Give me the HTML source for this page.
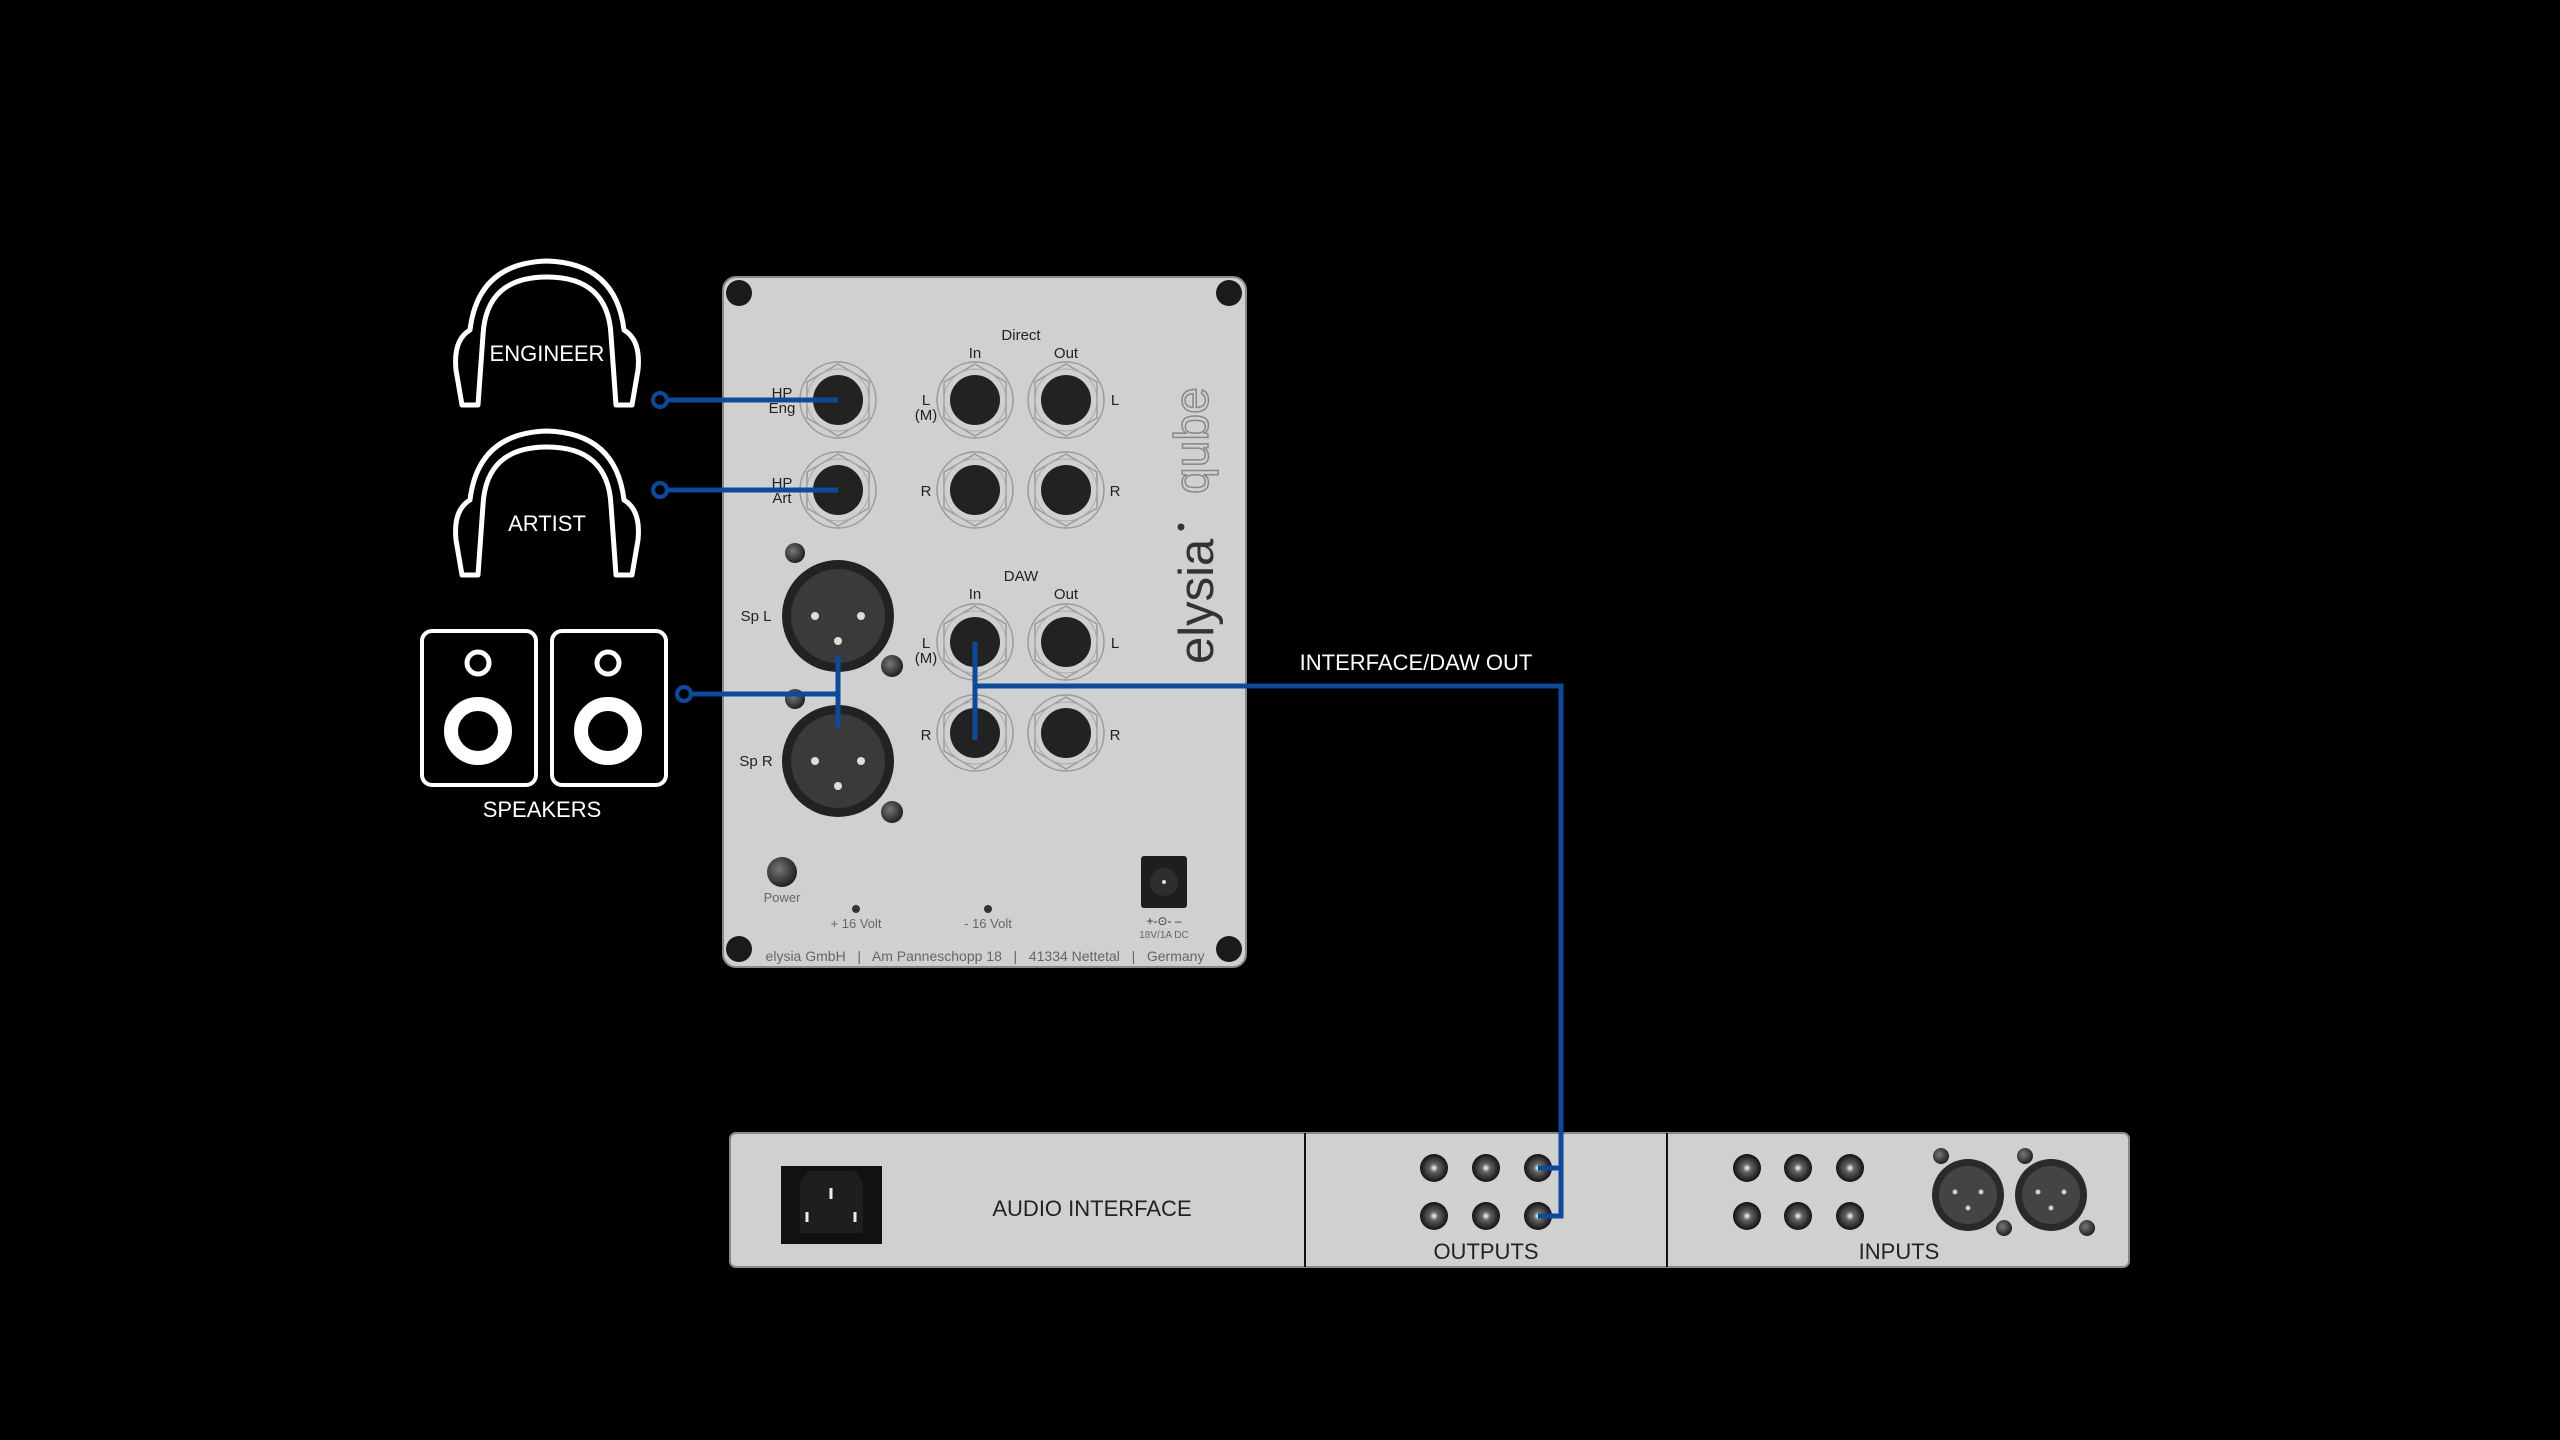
<!DOCTYPE html>
<html><head><meta charset="utf-8"><style>
html,body{margin:0;padding:0;background:#000;width:2560px;height:1440px;overflow:hidden}
text{font-family:"Liberation Sans",sans-serif}
</style></head><body>
<svg width="2560" height="1440" viewBox="0 0 2560 1440" xmlns="http://www.w3.org/2000/svg">
<defs>
<g id="jack">
  <circle r="38" fill="none" stroke="#9a9a9a" stroke-width="1.5"/>
  <polygon points="0,-36 31,-18 31,18 0,36 -31,18 -31,-18" fill="none" stroke="#9a9a9a" stroke-width="1.5"/>
  <circle r="31" fill="none" stroke="#aaa" stroke-width="1"/>
  <circle r="25" fill="#222"/>
</g>
<g id="xlr">
  <circle r="56" fill="#222"/>
  <circle r="47" fill="#3a3a3a"/>
  <circle cx="-23" cy="0" r="4" fill="#ddd"/>
  <circle cx="23" cy="0" r="4" fill="#ddd"/>
  <circle cx="0" cy="25" r="4" fill="#ddd"/>
</g>
<radialGradient id="sg" cx="0.4" cy="0.4" r="0.6"><stop offset="0" stop-color="#777"/><stop offset="1" stop-color="#222"/></radialGradient>
<radialGradient id="rca" cx="0.5" cy="0.5" r="0.5"><stop offset="0" stop-color="#fff"/><stop offset="0.3" stop-color="#666"/><stop offset="1" stop-color="#111"/></radialGradient>
</defs>

<!-- qube panel -->
<rect x="723" y="277" width="523" height="690" rx="13" fill="#d0d0d0" stroke="#888" stroke-width="2"/>
<g fill="#1a1a1a">
<circle cx="739" cy="293" r="13"/><circle cx="1229" cy="293" r="13"/>
<circle cx="739" cy="949" r="13"/><circle cx="1229" cy="949" r="13"/>
</g>
<g fill="#222" font-size="15" text-anchor="middle">
<text x="1021" y="340">Direct</text>
<text x="975" y="358">In</text><text x="1066" y="358">Out</text>
<text x="1021" y="581">DAW</text>
<text x="975" y="599">In</text><text x="1066" y="599">Out</text>
<text x="926" y="405">L</text><text x="926" y="420">(M)</text>
<text x="1115" y="405">L</text>
<text x="926" y="496">R</text><text x="1115" y="496">R</text>
<text x="926" y="648">L</text><text x="926" y="663">(M)</text>
<text x="1115" y="648">L</text>
<text x="926" y="740">R</text><text x="1115" y="740">R</text>
<text x="782" y="398">HP</text><text x="782" y="413">Eng</text>
<text x="782" y="488">HP</text><text x="782" y="503">Art</text>
<text x="756" y="621">Sp L</text><text x="756" y="766">Sp R</text>
</g>
<use href="#jack" x="838" y="400"/><use href="#jack" x="838" y="490"/>
<use href="#jack" x="975" y="400"/><use href="#jack" x="1066" y="400"/>
<use href="#jack" x="975" y="490"/><use href="#jack" x="1066" y="490"/>
<use href="#jack" x="975" y="642"/><use href="#jack" x="1066" y="642"/>
<use href="#jack" x="975" y="733"/><use href="#jack" x="1066" y="733"/>
<use href="#xlr" x="838" y="616"/><use href="#xlr" x="838" y="761"/>
<g fill="url(#sg)">
<circle cx="795" cy="553" r="10"/><circle cx="892" cy="666" r="11"/>
<circle cx="795" cy="699" r="10"/><circle cx="892" cy="812" r="11"/>
<circle cx="782" cy="872" r="15"/>
</g>
<g fill="#666" font-size="13" text-anchor="middle">
<text x="782" y="902">Power</text>
<text x="856" y="928">+ 16 Volt</text><text x="988" y="928">- 16 Volt</text>
<text x="1164" y="925" font-size="12" fill="#333">+-⊙- –</text>
<text x="1164" y="938" font-size="10">18V/1A DC</text>
<text x="985" y="961" font-size="14" xml:space="preserve">elysia GmbH   |   Am Panneschopp 18   |   41334 Nettetal   |   Germany</text>
</g>
<circle cx="856" cy="909" r="4" fill="#333"/><circle cx="988" cy="909" r="4" fill="#333"/>
<rect x="1141" y="856" width="46" height="52" rx="3" fill="#1e1e1e"/>
<circle cx="1164" cy="882" r="14" fill="#2e2e2e"/><circle cx="1164" cy="882" r="2" fill="#ddd"/>
<g transform="translate(1213,664) rotate(-90)">
<text x="0" y="0" font-size="49" fill="#333">elysia</text>
<circle cx="137" cy="-32" r="3.5" fill="#333"/>
<text x="170" y="-5" font-size="48" fill="none" stroke="#888" stroke-width="1.5">qube</text>
</g>

<!-- headphones -->
<g fill="none" stroke="#fff" stroke-width="5" stroke-linejoin="round">
<path d="M462,405 L456,370 Q453,340 470,330 Q478,263 547,261 Q616,263 624,330 Q641,340 638,370 L632,405 L616,405 L611,335 Q608,277 547,277 Q486,277 483,335 L478,405 Z"/>
<path d="M462,575 L456,540 Q453,510 470,500 Q478,433 547,431 Q616,433 624,500 Q641,510 638,540 L632,575 L616,575 L611,505 Q608,447 547,447 Q486,447 483,505 L478,575 Z"/>
</g>
<g fill="#fff" font-size="22" text-anchor="middle">
<text x="547" y="361">ENGINEER</text>
<text x="547" y="531">ARTIST</text>
<text x="542" y="817">SPEAKERS</text>
</g>
<!-- speakers -->
<g fill="none" stroke="#fff">
<rect x="422" y="631" width="114" height="154" rx="10" stroke-width="4"/>
<rect x="552" y="631" width="114" height="154" rx="10" stroke-width="4"/>
<circle cx="478" cy="663" r="11" stroke-width="5"/>
<circle cx="608" cy="663" r="11" stroke-width="5"/>
<circle cx="478" cy="731" r="27" stroke-width="14"/>
<circle cx="608" cy="731" r="27" stroke-width="14"/>
</g>

<!-- audio interface -->
<rect x="730" y="1133" width="1399" height="134" rx="6" fill="#d0d0d0" stroke="#888" stroke-width="2"/>
<line x1="1305" y1="1133" x2="1305" y2="1267" stroke="#111" stroke-width="2"/>
<line x1="1667" y1="1133" x2="1667" y2="1267" stroke="#111" stroke-width="2"/>
<rect x="781" y="1166" width="101" height="78" fill="#111"/>
<path d="M800,1183 L808,1171 L855,1171 L863,1183 L863,1233 L800,1233 Z" fill="#1e1e1e"/>
<g stroke="#eee" stroke-width="3"><line x1="831" y1="1188" x2="831" y2="1199"/><line x1="807" y1="1212" x2="807" y2="1222"/><line x1="855" y1="1212" x2="855" y2="1222"/></g>
<g fill="#222" font-size="22" text-anchor="middle">
<text x="1092" y="1216">AUDIO INTERFACE</text>
<text x="1486" y="1259">OUTPUTS</text>
<text x="1899" y="1259">INPUTS</text>
</g>
<g fill="url(#rca)">
<ellipse cx="1434" cy="1168" rx="14" ry="14"/><ellipse cx="1486" cy="1168" rx="14" ry="14"/><ellipse cx="1538" cy="1168" rx="14" ry="14"/>
<ellipse cx="1434" cy="1216" rx="14" ry="14"/><ellipse cx="1486" cy="1216" rx="14" ry="14"/><ellipse cx="1538" cy="1216" rx="14" ry="14"/>
<ellipse cx="1747" cy="1168" rx="14" ry="14"/><ellipse cx="1798" cy="1168" rx="14" ry="14"/><ellipse cx="1850" cy="1168" rx="14" ry="14"/>
<ellipse cx="1747" cy="1216" rx="14" ry="14"/><ellipse cx="1798" cy="1216" rx="14" ry="14"/><ellipse cx="1850" cy="1216" rx="14" ry="14"/>
</g>
<g>
<circle cx="1968" cy="1195" r="36" fill="#2a2a2a"/><circle cx="1968" cy="1195" r="29" fill="#444"/>
<circle cx="2051" cy="1195" r="36" fill="#2a2a2a"/><circle cx="2051" cy="1195" r="29" fill="#444"/>
<g fill="#ccc"><circle cx="1955" cy="1192" r="2.5"/><circle cx="1981" cy="1192" r="2.5"/><circle cx="1968" cy="1208" r="2.5"/>
<circle cx="2038" cy="1192" r="2.5"/><circle cx="2064" cy="1192" r="2.5"/><circle cx="2051" cy="1208" r="2.5"/></g>
<g fill="url(#sg)"><circle cx="1941" cy="1156" r="8"/><circle cx="2004" cy="1228" r="8"/><circle cx="2025" cy="1156" r="8"/><circle cx="2087" cy="1228" r="8"/></g>
</g>

<!-- connectors -->
<g stroke="#0d4a9c" stroke-width="5" fill="none">
<line x1="668" y1="400" x2="838" y2="400"/>
<line x1="668" y1="490" x2="838" y2="490"/>
<line x1="692" y1="694" x2="838" y2="694"/>
<line x1="838" y1="655" x2="838" y2="728"/>
<line x1="975" y1="642" x2="975" y2="740"/>
<polyline points="975,686 1561,686 1561,1216 1538,1216"/>
<line x1="1538" y1="1168" x2="1561" y2="1168"/>
<circle cx="660" cy="400" r="7" stroke-width="4"/>
<circle cx="660" cy="490" r="7" stroke-width="4"/>
<circle cx="684" cy="694" r="7" stroke-width="4"/>
</g>
<text x="1416" y="670" fill="#fff" font-size="22" text-anchor="middle">INTERFACE/DAW OUT</text>
</svg>
</body></html>
